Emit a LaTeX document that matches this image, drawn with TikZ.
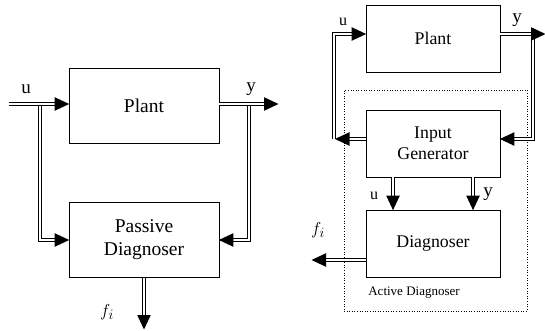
\documentclass[tikz,border=0pt]{standalone}
\usepackage{fontspec}
\setmainfont{Liberation Serif}
\usetikzlibrary{decorations.markings}
\begin{document}
\begin{tikzpicture}[x=1pt,y=-1pt,
  blk/.style={draw,line width=0.7pt,align=center,inner sep=0pt},
  bigblk/.style={blk,minimum width=150pt,minimum height=75pt,font=\fontsize{19.5}{23}\selectfont},
  smblk/.style={blk,minimum width=134pt,minimum height=67pt,font=\fontsize{17.8}{20.5}\selectfont},
  dbl/.style={double,double distance=1.8pt,line width=0.7pt},
  dbla/.style={dbl,shorten >=12pt,
    postaction={decorate,decoration={markings,
      mark=at position 1 with {\fill (0.5pt,0pt) -- (-14pt,6.8pt) -- (-14pt,-6.8pt) -- cycle;}}}},
  lbl/.style={font=\fontsize{19}{21}\selectfont,inner sep=0pt},
  slbl/.style={font=\fontsize{16}{18}\selectfont,inner sep=0pt}]
\useasboundingbox (0,0) rectangle (545,331);
% ---------- left ----------
\node[bigblk] (lp) at (144,105.5) {Plant};
\node[bigblk] (pd) at (144,240) {Passive\\Diagnoser};
\coordinate (uin) at (9,104);
\coordinate (bl) at (40,104);
\coordinate (br) at (249,104);
\coordinate (yout) at (278,104);
\coordinate (fout) at (144,329);
\draw[dbla] (bl) |- (pd.west);
\draw[dbla] (br) |- (pd.east);
\draw[dbla] (uin) -- (lp.west |- uin);
\draw[dbla] (lp.east |- yout) -- (yout);
\draw[dbla] (pd.south) -- (fout);
\node[lbl] (lu) at (26,89) {u};
\node[lbl] (ly) at (251,89) {y};
\node[lbl] (lf) at (107,312) {$f_i$};
% ---------- right ----------
\node[draw,dotted,line width=0.6pt,minimum width=183pt,minimum height=221pt,inner sep=0pt] (ad) at (435.5,200.5) {};
\node[smblk] (rp) at (433,38.5) {Plant};
\node[smblk] (ig) at (433,143.5) {Input\\Generator};
\node[smblk] (dg) at (433,243.5) {Diagnoser};
\coordinate (cl) at (334,139);
\coordinate (cltop) at (334,34);
\coordinate (cr) at (533,34);
\coordinate (ryout) at (545,34);
\coordinate (rfout) at (312,260);
\draw[dbla] (cl) |- (rp.west |- cltop);
\draw[dbla] (ig.west |- cl) -- ([xshift=1.5pt]cl);
\draw[dbla] (cr) |- (ig.east |- cl);
\draw[dbla] (rp.east |- ryout) -- (ryout);
\draw[dbla] (ig.south -| 393,0) -- (dg.north -| 393,0);
\draw[dbla] (ig.south -| 473,0) -- (dg.north -| 473,0);
\draw[dbla] (dg.west |- rfout) -- (rfout);
\node[slbl] (ru) at (343,22) {u};
\node[lbl] (ry) at (517,20) {y};
\node[slbl] (du) at (374,196) {u};
\node[lbl] (dy) at (488,194) {y};
\node[lbl] (rf) at (318,230) {$f_i$};
\node[font=\fontsize{13}{15}\selectfont,inner sep=0pt] (adl) at (414,293) {Active Diagnoser};
\end{tikzpicture}
\end{document}
